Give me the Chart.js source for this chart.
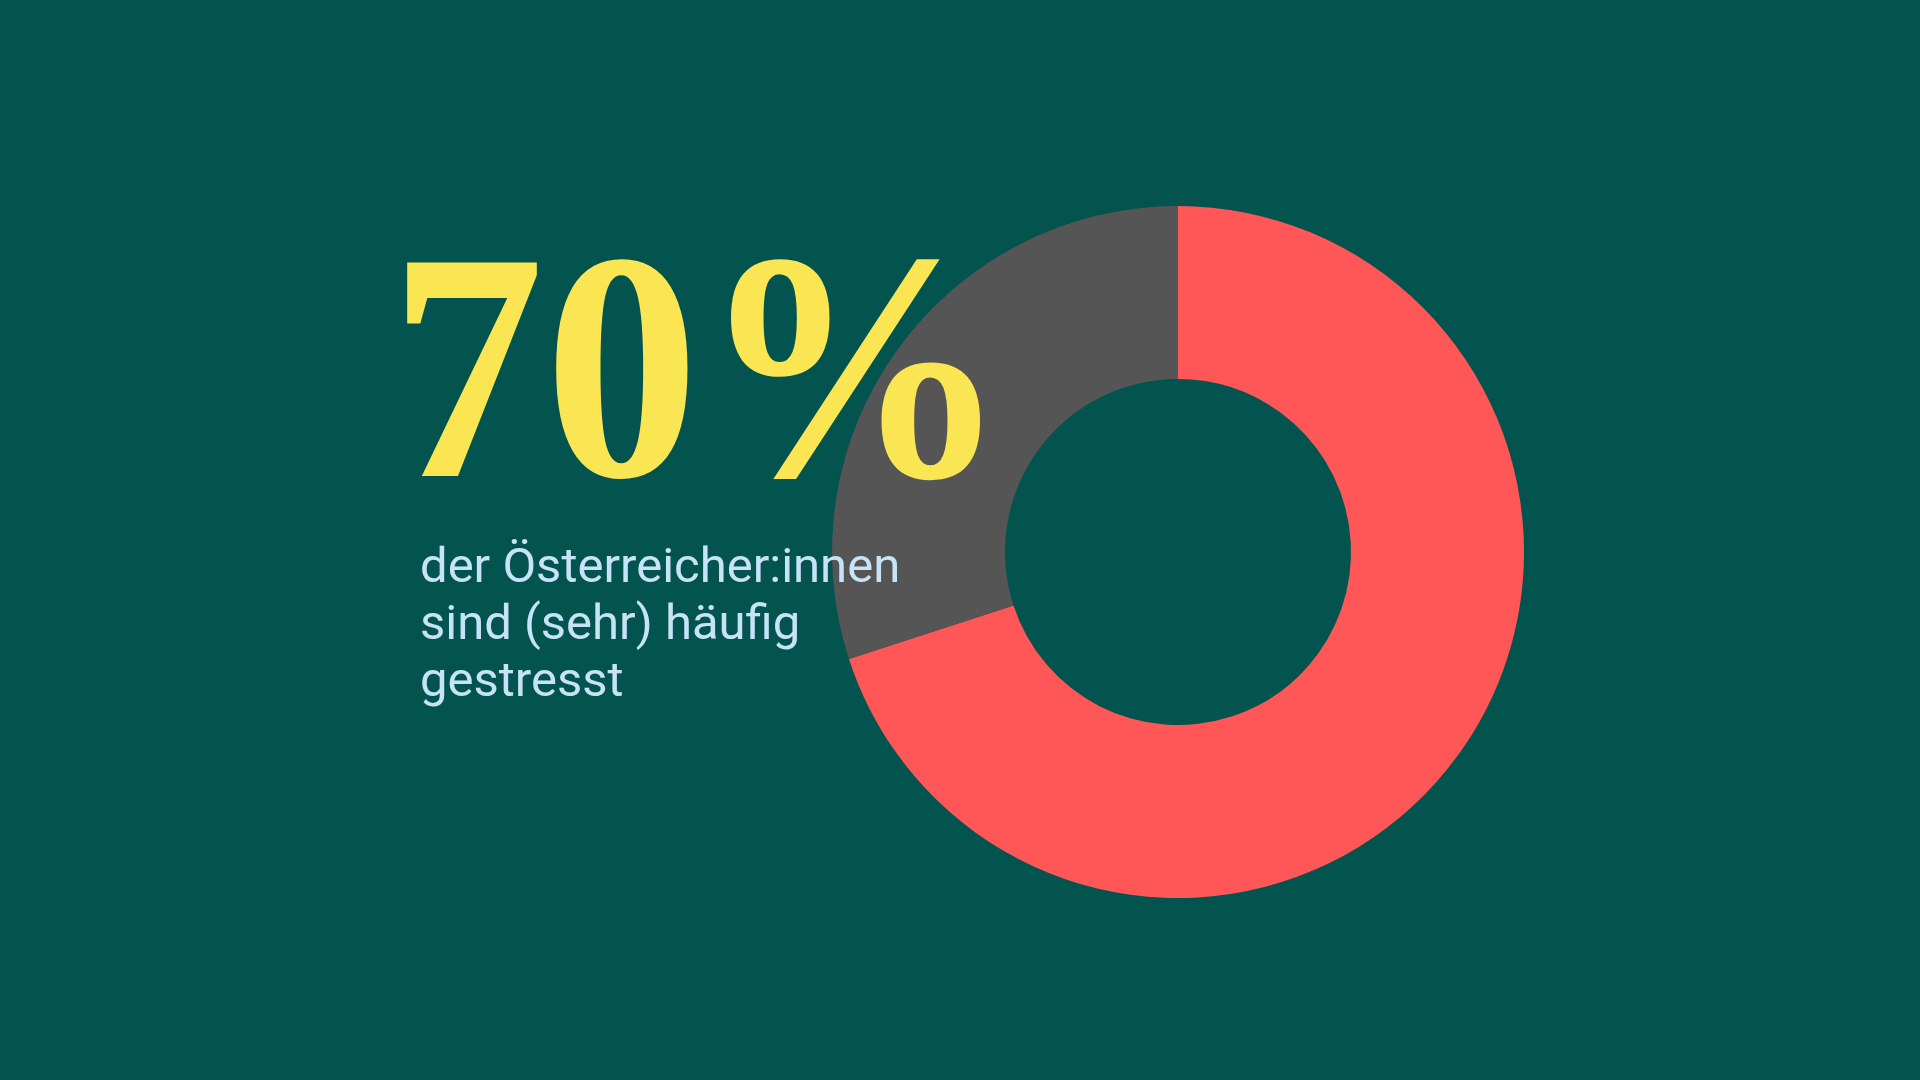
<!DOCTYPE html>
<html>
<head>
<meta charset="utf-8">
<script src="https://cdn.jsdelivr.net/npm/chart.js@4.4.0/dist/chart.umd.min.js"></script>
<style>
  html, body { margin: 0; padding: 0; background: #03534F; }
  #wrap { width: 1920px; height: 1080px; position: relative; }
</style>
</head>
<body>
<div id="wrap"><canvas id="myChart" width="1920" height="1080"></canvas></div>
<script>
// data
var labels = ['(sehr) häufig gestresst', 'seltener / nie'];
var values = [70, 30];
var colors = ['#FF5757', '#555555'];

var bigText = values[0] + '%';
var captionLines = ['der Österreicher:innen', 'sind (sehr) häufig', 'gestresst'];

// big number + caption on top of the ring
var textPlugin = {
    id: 'textPlugin',
    afterDraw: function(chart) {
        var ctx = chart.ctx;
        ctx.save();

        // "70%" fitted into its box
        var box = { left: 404, top: 257, right: 980, bottom: 481 };
        ctx.font = 'bold 300px "Liberation Serif", serif';
        ctx.textBaseline = 'alphabetic';
        ctx.textAlign = 'left';
        var m = ctx.measureText(bigText);
        var w = m.actualBoundingBoxLeft + m.actualBoundingBoxRight;
        var h = m.actualBoundingBoxAscent + m.actualBoundingBoxDescent;
        var sx = (box.right - box.left) / w;
        var sy = (box.bottom - box.top) / h;
        ctx.translate(box.left, box.top);
        ctx.scale(sx, sy);
        ctx.fillStyle = '#FAE553';
        ctx.fillText(bigText, m.actualBoundingBoxLeft, m.actualBoundingBoxAscent);
        ctx.restore();

        ctx.save();
        ctx.font = '49px Roboto, sans-serif';
        ctx.fillStyle = '#C6E3F8';
        ctx.textAlign = 'left';
        ctx.textBaseline = 'alphabetic';
        captionLines.forEach(function(line, i) {
            ctx.fillText(line, 420, 582 + i * 57);
        });
        ctx.restore();
    }
};

let myDoughnut = document.getElementById('myChart').getContext('2d');

let chart1 = new Chart(myDoughnut, {
    type: 'doughnut',
    data: {
        labels: labels,
        datasets: [{
            data: values,
            backgroundColor: colors,
            borderWidth: 0
        }]
    },
    options: {
        responsive: false,
        animation: false,
        cutout: '50%',
        layout: {
            padding: { left: 832, right: 396, top: 206, bottom: 182 }
        },
        plugins: {
            legend: { display: false },
            tooltip: { enabled: false }
        }
    },
    plugins: [textPlugin]
});
</script>
</body>
</html>
